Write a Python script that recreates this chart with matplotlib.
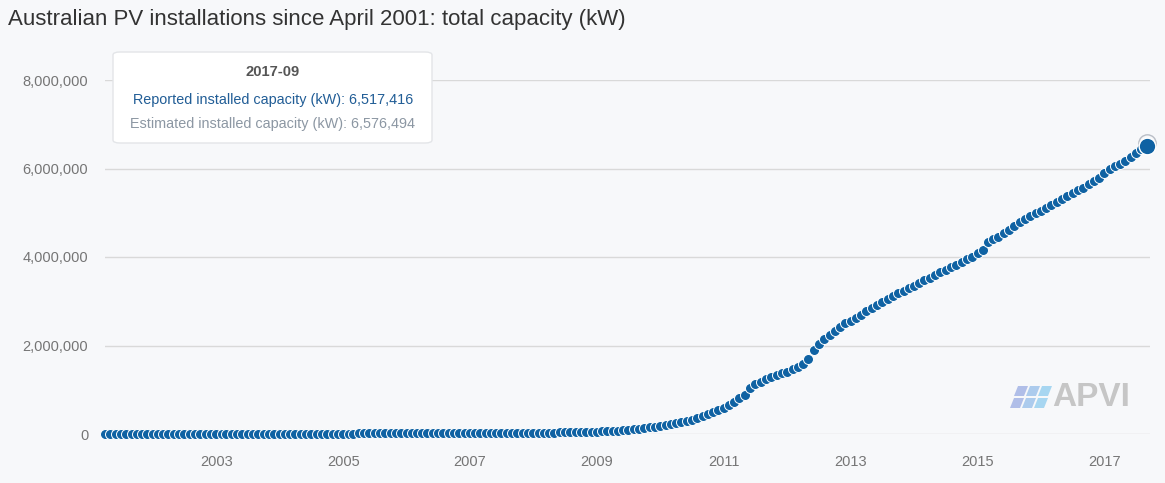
import matplotlib
matplotlib.use("Agg")
import matplotlib.pyplot as plt
from matplotlib.patches import FancyBboxPatch, Polygon
import datetime as dt

plt.rcParams['font.family'] = ['Liberation Sans', 'DejaVu Sans']

# ---- data (kW, monthly, April 2001 .. September 2017) ----
start_year, start_month = 2001, 4
reported_2001 = [80, 210, 370, 540, 720, 900, 1090, 1290, 1500]
reported_2002 = [1700, 1900, 2120, 2330, 2540, 2760, 2980, 3200, 3430, 3660, 3890, 4120]
reported_2003 = [4340, 4570, 4810, 5040, 5280, 5520, 5760, 6010, 6260, 6510, 6760, 7020]
reported_2004 = [7270, 7530, 7800, 8060, 8330, 8600, 8880, 9160, 9450, 9740, 10030, 10330]
reported_2005 = [10620, 10930, 11250, 11570, 11890, 12220, 12560, 12900, 13250, 13610, 13980, 14360]
reported_2006 = [14730, 15120, 15520, 15930, 16350, 16780, 17220, 17670, 18140, 18620, 19120, 19640]
reported_2007 = [20150, 20690, 21250, 21830, 22430, 23060, 23720, 24410, 25140, 25920, 26760, 27660]
reported_2008 = [28580, 29580, 30660, 31830, 33100, 34490, 36020, 37720, 39630, 41790, 44250, 47050]
reported_2009 = [52000, 57000, 63000, 70000, 78000, 87000, 97000, 108000, 121000, 135000, 150000, 166000]
reported_2010 = [180000, 197000, 216000, 238000, 263000, 292000, 326000, 365000, 410000, 455000, 505000, 550000]
reported_2011 = [595000, 660000, 730000, 805000, 885000, 1050000, 1120000, 1180000, 1235000, 1285000, 1330000, 1375000]
reported_2012 = [1410000, 1460000, 1515000, 1590000, 1700000, 1890000, 2040000, 2140000, 2230000, 2330000, 2420000, 2500000]
reported_2013 = [2560000, 2630000, 2700000, 2770000, 2840000, 2920000, 2990000, 3060000, 3120000, 3180000, 3240000, 3300000]
reported_2014 = [3350000, 3410000, 3470000, 3530000, 3590000, 3650000, 3710000, 3770000, 3830000, 3890000, 3950000, 4010000]
reported_2015 = [4080000, 4150000, 4330000, 4400000, 4460000, 4540000, 4620000, 4700000, 4780000, 4860000, 4930000, 4990000]
reported_2016 = [5030000, 5100000, 5180000, 5250000, 5310000, 5380000, 5450000, 5510000, 5570000, 5640000, 5710000, 5780000]
reported_2017 = [5900000, 5980000, 6050000, 6110000, 6170000, 6260000, 6350000, 6430000, 6517416]
estimated_last = 6576494

y_ticks = [0, 2000000, 4000000, 6000000, 8000000]
x_tick_years = [2003, 2005, 2007, 2009, 2011, 2013, 2015, 2017]

reported = (reported_2001 + reported_2002 + reported_2003 + reported_2004 + reported_2005 +
            reported_2006 + reported_2007 + reported_2008 + reported_2009 + reported_2010 +
            reported_2011 + reported_2012 + reported_2013 + reported_2014 + reported_2015 +
            reported_2016 + reported_2017)
dates = []
y, m = start_year, start_month
for _ in reported:
    dates.append(dt.date(y, m, 1))
    m += 1
    if m > 12:
        m = 1
        y += 1

# ---- figure ----
W, H = 1165, 483
bg = '#f7f8fa'
fig = plt.figure(figsize=(W / 100, H / 100), dpi=100, facecolor=bg)
ax = fig.add_axes([105 / W, (H - 434) / H, (1150 - 105) / W, (434 - 80) / H], facecolor=bg)

blue = '#0f62a3'
ax.plot(dates[:-1], reported[:-1], linestyle='none', marker='o', markersize=7.2,
        markerfacecolor=blue, markeredgecolor='white', markeredgewidth=0.7,
        clip_on=False, zorder=3)
# hovered point with estimated halo
ax.plot([dates[-1]], [estimated_last], linestyle='none', marker='o', markersize=12.5,
        markerfacecolor='none', markeredgecolor='#b9bec6', markeredgewidth=1.0,
        clip_on=False, zorder=3)
ax.plot([dates[-1]], [reported[-1]], linestyle='none', marker='o', markersize=12,
        markerfacecolor=blue, markeredgecolor='white', markeredgewidth=1.0,
        clip_on=False, zorder=4)

ax.set_ylim(0, 8000000)
ax.set_xlim(dt.date(2001, 4, 1), dt.date(2017, 9, 20))
ax.set_yticks(y_ticks)
ax.set_yticklabels([f"{v:,}" for v in y_ticks])
ax.set_xticks([dt.date(yr, 1, 1) for yr in x_tick_years])
ax.set_xticklabels([str(yr) for yr in x_tick_years])
ax.tick_params(axis='both', length=0, labelsize=10.5, labelcolor='#757575')
ax.tick_params(axis='y', pad=12)
ax.tick_params(axis='x', pad=15)
ax.grid(axis='y', color='#d9d9d9', linewidth=1.0)
ax.set_axisbelow(True)
for s in ax.spines.values():
    s.set_visible(False)

# title
fig.text(8 / W, 1 - 20 / H, "Australian PV installations since April 2001: total capacity (kW)",
         fontsize=16, color='#333333', ha='left', va='center')

# tooltip box
box = FancyBboxPatch((113 / W, 1 - 143 / H), (432 - 113) / W, (143 - 52) / H,
                     boxstyle="round,pad=0,rounding_size=0.006", transform=fig.transFigure,
                     facecolor='white', edgecolor='#e3e5e8', linewidth=1.0, zorder=10)
fig.patches.append(box)
cx = 273 / W
fig.text(cx, 1 - 72 / H, "2017-09", fontsize=10.6, fontweight='bold', color='#555555',
         ha='center', va='center', zorder=11)
fig.text(cx, 1 - 100 / H, f"Reported installed capacity (kW): {reported[-1]:,}", fontsize=10.4,
         color='#215d96', ha='center', va='center', zorder=11)
fig.text(cx, 1 - 124 / H, f"Estimated installed capacity (kW): {estimated_last:,}", fontsize=10.4,
         color='#8c97a3', ha='center', va='center', zorder=11)

# APVI logo
cols = ['#a9b8e6', '#a4c6ec', '#9fd3f0']
for row in range(2):
    for col in range(3):
        x0 = 1014 + col * 12 - row * 4
        y0 = 386 + row * 12
        pts = [(x0 + 4, y0), (x0 + 14, y0), (x0 + 10, y0 + 10), (x0, y0 + 10)]
        fig.patches.append(Polygon([(px / W, 1 - py / H) for px, py in pts], closed=True,
                                   transform=fig.transFigure, facecolor=cols[col],
                                   edgecolor='none', alpha=0.9, zorder=2))
fig.text(1091 / W, 1 - 397 / H, "APVI", fontsize=24, fontweight='bold', color='#c6c6c6',
         ha='center', va='center')

fig.savefig("out.png", dpi=100, facecolor=bg)
